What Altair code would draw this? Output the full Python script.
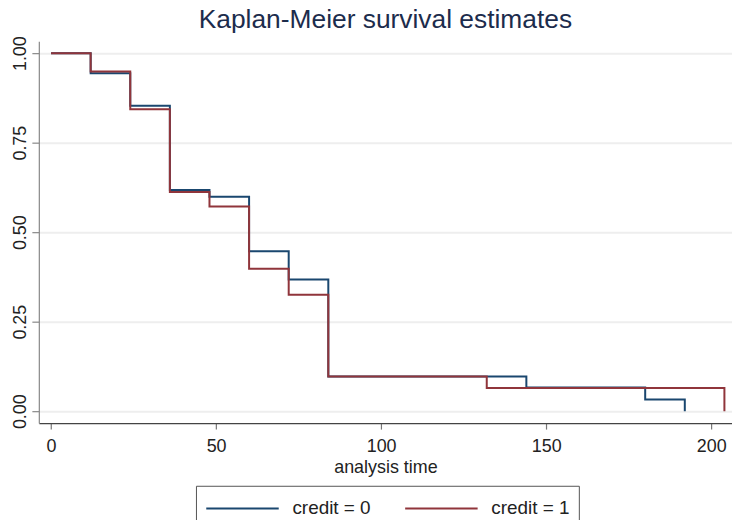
import altair as alt
import pandas as pd

# Kaplan-Meier step values
t0 = [0, 12, 24, 36, 48, 60, 72, 84, 144, 180, 192]
s0 = [1.0, 0.944, 0.853, 0.6175, 0.599, 0.447, 0.3675, 0.0972, 0.066, 0.0325, 0.0]
t1 = [0, 12, 24, 36, 48, 60, 72, 84, 132, 204]
s1 = [1.0, 0.949, 0.8436, 0.612, 0.5714, 0.398, 0.325, 0.0972, 0.065, 0.0]
groups = ["credit = 0", "credit = 1"]
colors = ["#1a476f", "#90353b"]
x_ticks = [0, 50, 100, 150, 200]
y_ticks = [0, 0.25, 0.5, 0.75, 1.0]

df = pd.DataFrame({
    "t": t0 + t1,
    "s": s0 + s1,
    "g": [groups[0]] * len(t0) + [groups[1]] * len(t1),
})

FONT = "Liberation Sans"

chart = alt.Chart(df).mark_line(interpolate="step-after", strokeWidth=2).encode(
    x=alt.X("t:Q",
            scale=alt.Scale(domain=[-3.7, 206.3], nice=False, zero=False),
            axis=alt.Axis(values=x_ticks, title="analysis time", grid=False,
                          domainColor="#444444", domainWidth=1.2,
                          tickColor="#777777", tickSize=6, tickWidth=1.2,
                          labelFont=FONT, labelFontSize=18, labelColor="#222222",
                          labelPadding=9, titleFont=FONT, titleFontSize=18,
                          titleFontWeight="normal", titleColor="#222222",
                          titlePadding=3)),
    y=alt.Y("s:Q",
            scale=alt.Scale(domain=[-0.0333, 1.0333], nice=False, zero=False),
            axis=alt.Axis(values=y_ticks, format=".2f", title=None,
                          grid=True, gridColor="#eeeeee", gridWidth=2,
                          domainColor="#888888", domainWidth=1.2,
                          tickColor="#888888", tickSize=7, tickWidth=1.2,
                          labelAngle=270, labelAlign="center",
                          labelBaseline="alphabetic", labelPadding=6,
                          labelFont=FONT, labelFontSize=18, labelColor="#222222")),
    color=alt.Color("g:N",
                    scale=alt.Scale(domain=groups, range=colors),
                    legend=alt.Legend(orient="none", legendX=158, legendY=447,
                                      direction="horizontal", title=None,
                                      symbolType="M-1,0H5", symbolSize=590,
                                      symbolStrokeWidth=2,
                                      labelFont=FONT, labelFontSize=19,
                                      labelColor="#222222", labelOffset=61,
                                      columnPadding=30, padding=9,
                                      strokeColor="#555555", cornerRadius=0)),
).properties(
    width=697,
    height=384,
    title=alt.Title("Kaplan-Meier survival estimates", fontSize=26.5, font=FONT,
                    color="#1c2c4c", fontWeight="normal", anchor="middle",
                    frame="group", offset=2),
    padding={"left": 31, "top": 32, "right": 0, "bottom": 96},
    autosize="none",
).configure_view(stroke=None)

chart.save("out.html", embed_options={"renderer": "svg", "actions": False})
